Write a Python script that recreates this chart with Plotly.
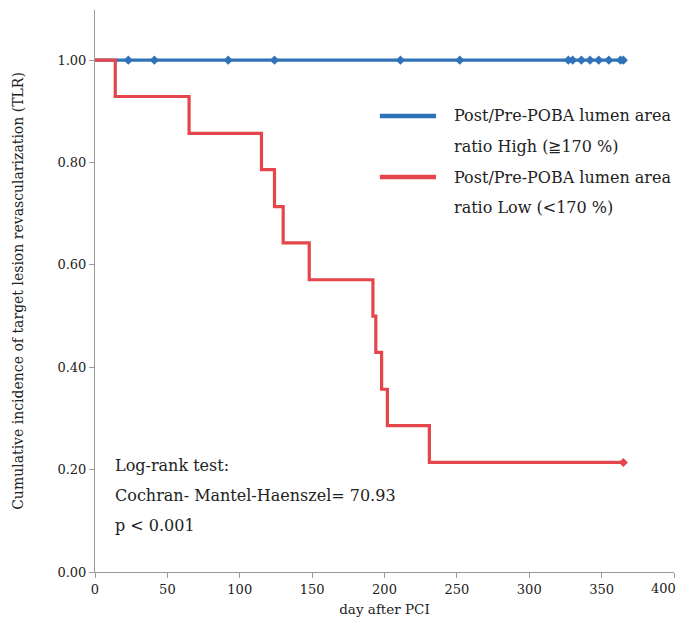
import plotly.graph_objects as go

# Data
high_days = [0, 365]
high_values = [1.0, 1.0]
high_censor_days = [23, 41, 92, 124, 211, 252, 327, 330, 336, 342, 348, 355, 363, 365]
high_censor_values = [1.0] * len(high_censor_days)

low_days = [0, 14, 65, 115, 124, 130, 148, 192, 194, 198, 202, 231, 365]
low_values = [1.0, 0.929, 0.857, 0.786, 0.714, 0.643, 0.571, 0.500, 0.429, 0.357, 0.286, 0.214, 0.214]
low_censor_days = [365]
low_censor_values = [0.214]

x_ticks = [0, 50, 100, 150, 200, 250, 300, 350, 400]
x_tick_labels = ["0", "50", "100", "150", "200", "250", "300", "350", "400"]
y_ticks = [0.0, 0.2, 0.4, 0.6, 0.8, 1.0]
y_tick_labels = ["0.00", "0.20", "0.40", "0.60", "0.80", "1.00"]

legend_lines = [["Post/Pre-POBA lumen area", "ratio High (\u2267170 %)"],
                ["Post/Pre-POBA lumen area", "ratio Low (<170 %)"]]
stats_lines = ["Log-rank test:", "Cochran- Mantel-Haenszel= 70.93", "p < 0.001"]

BLUE = "#2f72b8"
RED = "#e5464b"
FONT = "DejaVu Serif"
TXT = "#222222"

fig = go.Figure()
fig.add_trace(go.Scatter(x=high_days, y=high_values, mode="lines", line=dict(color=BLUE, width=3.2),
                         showlegend=False, hoverinfo="skip"))
fig.add_trace(go.Scatter(x=low_days, y=low_values, mode="lines", line=dict(color=RED, width=3.2, shape="hv"),
                         showlegend=False, hoverinfo="skip"))
fig.add_trace(go.Scatter(x=high_censor_days, y=high_censor_values, mode="markers",
                         marker=dict(symbol="diamond", size=7, color=BLUE), showlegend=False))
fig.add_trace(go.Scatter(x=low_censor_days, y=low_censor_values, mode="markers",
                         marker=dict(symbol="diamond", size=7, color=RED), showlegend=False))

# Manual legend (line sample + two text lines)
leg_y = [0.8114, 0.7028]
line_gap = 0.0534
for lines, col, yy in zip(legend_lines, [BLUE, RED], leg_y):
    fig.add_shape(type="line", xref="paper", yref="paper", x0=0.492, x1=0.589, y0=yy, y1=yy,
                  line=dict(color=col, width=4.5))
    for j, t in enumerate(lines):
        fig.add_annotation(xref="paper", yref="paper", x=0.6166, y=yy - j * line_gap,
                           xanchor="left", yanchor="middle", text=t, showarrow=False,
                           font=dict(family=FONT, size=16, color=TXT))

# Stats text
stats_y = [0.190, 0.137, 0.082]
for t, yy in zip(stats_lines, stats_y):
    fig.add_annotation(xref="paper", yref="paper", x=0.031, y=yy, xanchor="left", yanchor="middle",
                       text=t, showarrow=False, font=dict(family=FONT, size=16, color=TXT))

# Last x tick label drawn as annotation, nudged so it is not clipped at the window edge
axis_labels = x_tick_labels[:-1] + [""]
fig.add_annotation(x=x_ticks[-1], xref="x", y=0, yref="paper", xanchor="right", yanchor="top",
                   xshift=4, yshift=-7, text=x_tick_labels[-1], showarrow=False,
                   font=dict(family=FONT, size=13, color=TXT))

fig.update_layout(
    width=688, height=610,
    margin=dict(l=87, r=22, t=2, b=46),
    paper_bgcolor="white", plot_bgcolor="white",
    font=dict(family=FONT, size=13, color=TXT),
    xaxis=dict(range=[0, 400], tickvals=x_ticks, ticktext=axis_labels, showgrid=False, zeroline=False,
               showline=True, linecolor="#9a9a9a", linewidth=1, ticks="outside", ticklen=5,
               tickcolor="#9a9a9a", tickfont=dict(family=FONT, size=13, color=TXT),
               title=dict(text="day after PCI", font=dict(family=FONT, size=13.5, color=TXT), standoff=8)),
    yaxis=dict(range=[0, 1.098], tickvals=y_ticks, ticktext=y_tick_labels, showgrid=False, zeroline=False,
               showline=True, linecolor="#9a9a9a", linewidth=1, ticks="outside", ticklen=5,
               tickcolor="#9a9a9a", tickfont=dict(family=FONT, size=13, color=TXT),
               title=dict(text="Cumulative incidence of target lesion revascularization (TLR)",
                          font=dict(family=FONT, size=14, color=TXT), standoff=30)),
)

fig.write_html("out.html",
               post_script="document.documentElement.style.overflow='hidden';")
